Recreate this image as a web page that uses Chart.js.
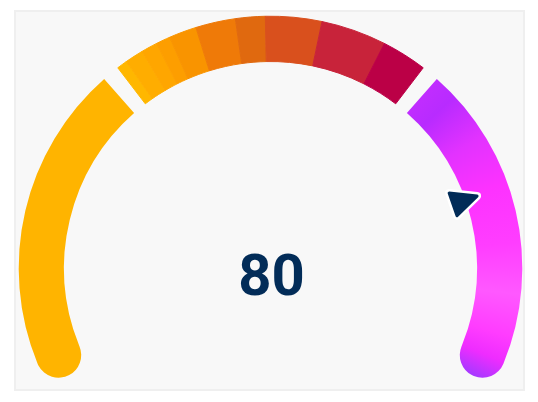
<!DOCTYPE html>
<html><head><meta charset="utf-8">
<script src="https://cdn.jsdelivr.net/npm/chart.js@4.4.1/dist/chart.umd.min.js"></script>
<style>
html,body{margin:0;padding:0;background:#ffffff;}
#wrap{position:relative;width:538px;height:402px;overflow:hidden;}
#panel{position:absolute;left:14px;top:10px;width:507px;height:377px;background:#f8f8f8;border:2px solid #efefef;}
#c{position:absolute;left:0;top:0;}
</style></head><body>
<div id="wrap"><div id="panel"></div><canvas id="c" width="538" height="402"></canvas></div>
<script>
// ---- data ----
const bandLimits = [0, 33.33, 66.67, 100];          // three gauge bands (0-100 scale)
const bandGap = 1.7;                                 // gap between bands (scale units)
const middleSplits = [35.2, 37.0, 38.6, 40.0, 42.7, 46.6, 49.5, 55.0, 61.4]; // sub-steps of middle band
const gaugeValue = 80;
const valueLabel = '80';

// ---- styles ----
const lowColor = '#ffb400';
const middleColors = ['#ffb700','#ffad00','#ffa600','#fd9e00','#f99400','#ef7a08','#e0690f','#d9501d','#c8233a','#bb0046'];
const gapColor = 'rgba(0,0,0,0)';
const navy = '#022c58';

// build ring segments from the data
const segValues = [];
const segKinds = [];
const segColors = [];
segValues.push(bandLimits[1] - bandGap / 2 - bandLimits[0]); segKinds.push('low'); segColors.push(lowColor);
segValues.push(bandGap); segKinds.push('gap'); segColors.push(gapColor);
const midEdges = [bandLimits[1] + bandGap / 2, ...middleSplits, bandLimits[2] - bandGap / 2];
for (let i = 0; i < midEdges.length - 1; i++) {
  segValues.push(midEdges[i + 1] - midEdges[i]); segKinds.push('mid'); segColors.push(middleColors[i]);
}
segValues.push(bandGap); segKinds.push('gap'); segColors.push(gapColor);
segValues.push(bandLimits[3] - (bandLimits[2] + bandGap / 2)); segKinds.push('high'); segColors.push(null);
const lastIdx = segValues.length - 1;

function highGradient(ctx) {
  const chart = ctx.chart;
  const area = chart.chartArea;
  const meta = chart.getDatasetMeta(0);
  const ctrl = meta && meta.controller;
  if (!area || !ctrl || !chart.ctx.createConicGradient) return '#ff30ff';
  const cx = (area.left + area.right) / 2 + (ctrl.offsetX || 0);
  const cy = (area.top + area.bottom) / 2 + (ctrl.offsetY || 0);
  const startDeg = -52; // canvas angle
  const g = chart.ctx.createConicGradient(startDeg * Math.PI / 180, cx, cy);
  const stop = (fromTop, col) => {
    const canvasDeg = fromTop - 90;
    g.addColorStop(Math.min(1, Math.max(0, (canvasDeg - startDeg) / 360)), col);
  };
  stop(39, '#c42eff');
  stop(47, '#b82bff');
  stop(58, '#e232ff');
  stop(70, '#fd32ff');
  stop(84, '#ff3dff');
  stop(96, '#ff58ff');
  stop(106, '#ff3cff');
  stop(112, '#ee2cff');
  stop(119, '#9a3bff');
  stop(122, '#9a3bff');
  return g;
}

const gaugeOverlay = {
  id: 'gaugeOverlay',
  afterDatasetsDraw(chart) {
    const arcs = chart.getDatasetMeta(0).data;
    const first = arcs[0], last = arcs[arcs.length - 1];
    const x = first.x, y = first.y;
    const inner = first.innerRadius, outer = first.outerRadius;
    const t = outer - inner;
    const a = first.startAngle + (last.endAngle - first.startAngle) * gaugeValue / 100;
    const ctx = chart.ctx;
    const tipR = inner + 0.27 * t, baseR = inner - 0.29 * t, halfW = 0.265 * t;
    const ca = Math.cos(a), sa = Math.sin(a);
    const tip = [x + ca * tipR, y + sa * tipR];
    const bc = [x + ca * baseR, y + sa * baseR];
    const p1 = [bc[0] - sa * halfW, bc[1] + ca * halfW];
    const p2 = [bc[0] + sa * halfW, bc[1] - ca * halfW];
    ctx.save();
    ctx.beginPath();
    ctx.moveTo(tip[0], tip[1]); ctx.lineTo(p1[0], p1[1]); ctx.lineTo(p2[0], p2[1]); ctx.closePath();
    ctx.lineJoin = 'round';
    ctx.strokeStyle = '#ffffff'; ctx.lineWidth = 8; ctx.stroke();
    ctx.fillStyle = navy; ctx.strokeStyle = navy; ctx.lineWidth = 3;
    ctx.fill(); ctx.stroke();
    ctx.restore();

    ctx.save();
    ctx.font = 'bold 58px Roboto, "Noto Sans", sans-serif';
    ctx.fillStyle = navy;
    ctx.textAlign = 'center';
    ctx.textBaseline = 'alphabetic';
    ctx.fillText(valueLabel, x + 1, y + 0.106 * outer);
    ctx.restore();
  }
};

new Chart(document.getElementById('c'), {
  type: 'doughnut',
  data: {
    labels: segKinds,
    datasets: [{
      data: segValues,
      backgroundColor: (ctx) => segKinds[ctx.dataIndex] === 'high' ? highGradient(ctx) : segColors[ctx.dataIndex],
      borderColor: (ctx) => segKinds[ctx.dataIndex] === 'mid' ? segColors[ctx.dataIndex] : 'rgba(0,0,0,0)',
      borderWidth: (ctx) => segKinds[ctx.dataIndex] === 'mid' ? 1 : 0,
      borderAlign: 'center',
      borderRadius: (ctx) => {
        if (ctx.dataIndex === 0) return {outerStart: 100, innerStart: 100, outerEnd: 0, innerEnd: 0};
        if (ctx.dataIndex === lastIdx) return {outerStart: 0, innerStart: 0, outerEnd: 100, innerEnd: 100};
        return 0;
      }
    }]
  },
  options: {
    responsive: false,
    animation: false,
    events: [],
    rotation: -118,
    circumference: 236,
    cutout: '82%',
    layout: {padding: {left: 18, right: 15, top: 15.7, bottom: 15.3}},
    plugins: {legend: {display: false}, tooltip: {enabled: false}}
  },
  plugins: [gaugeOverlay]
});
</script></body></html>
